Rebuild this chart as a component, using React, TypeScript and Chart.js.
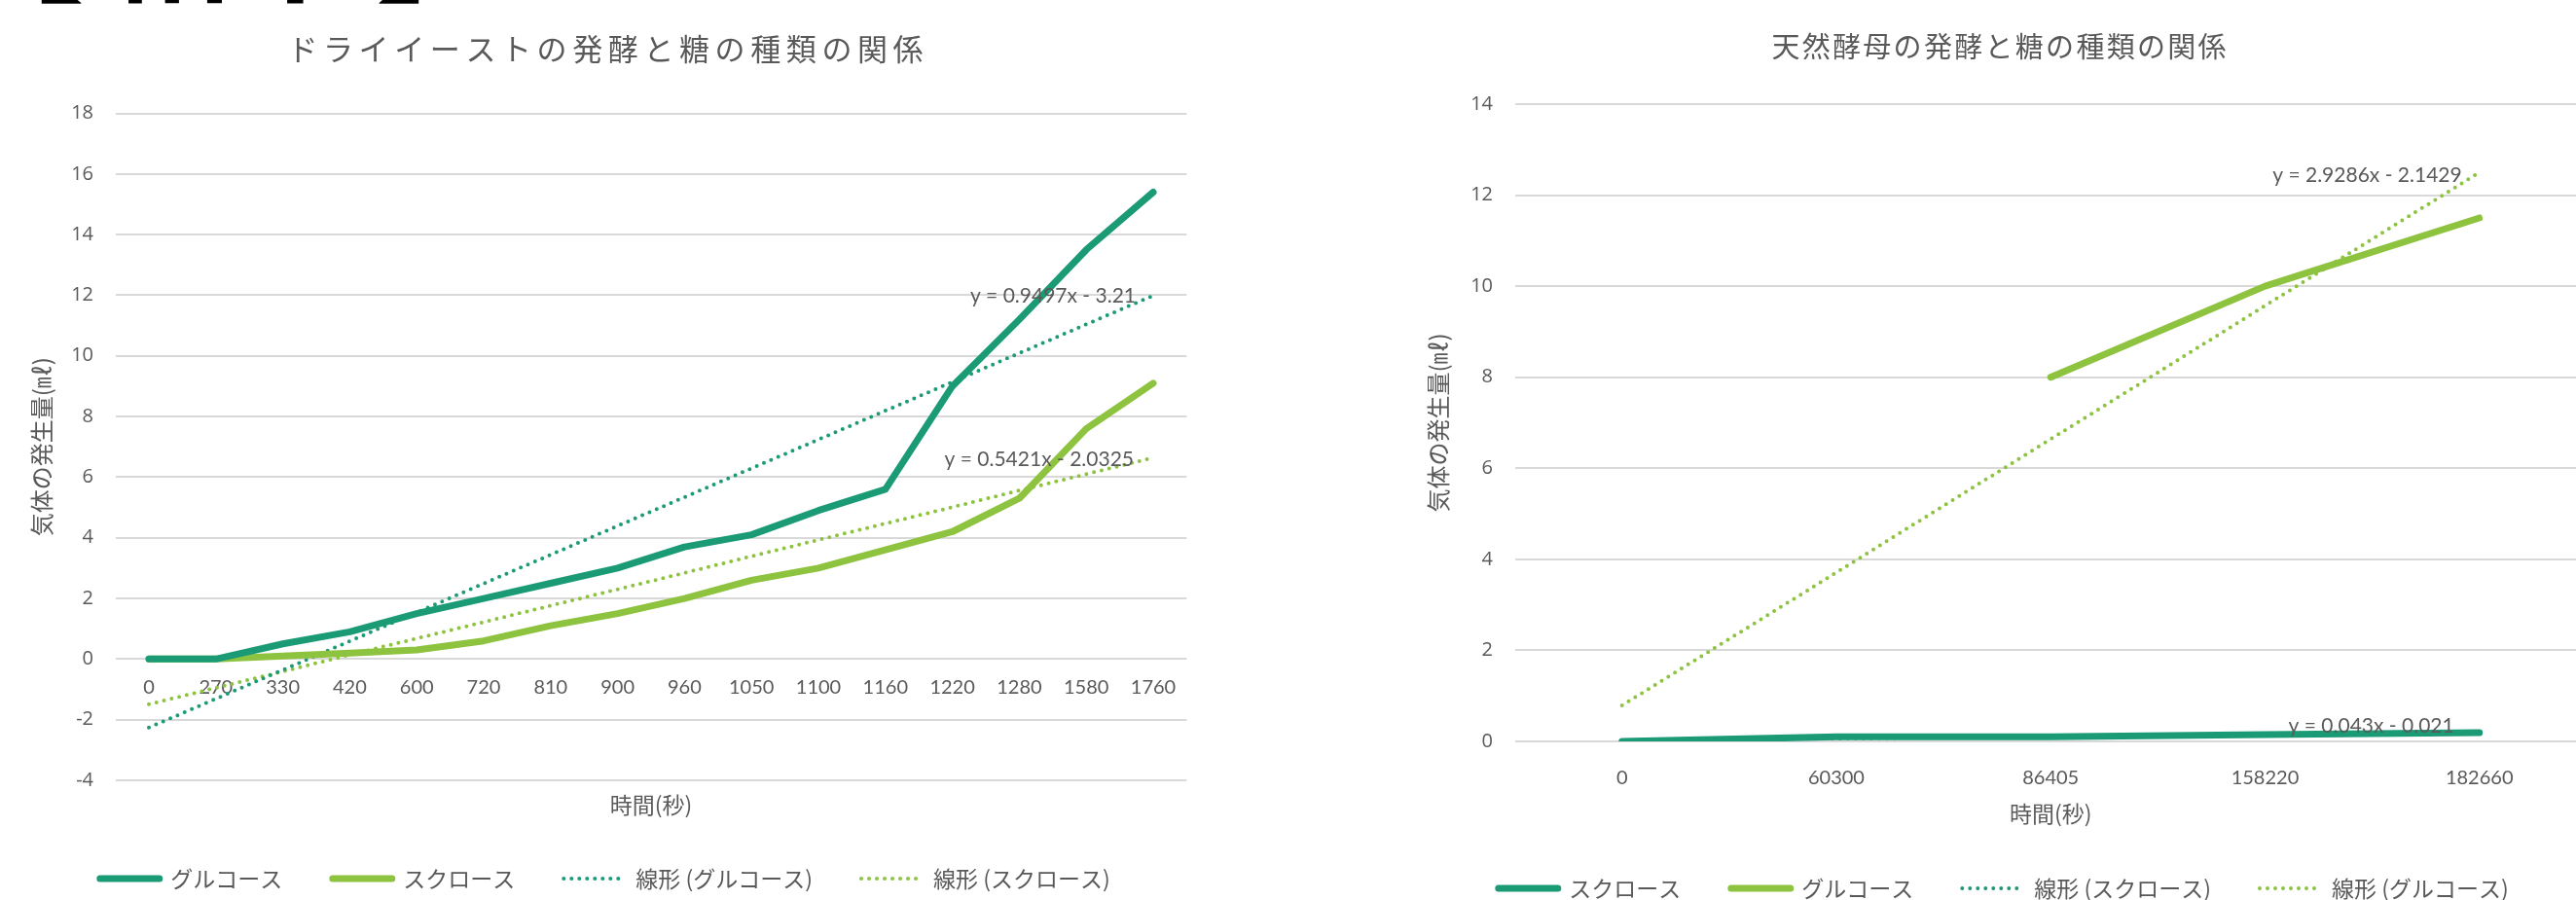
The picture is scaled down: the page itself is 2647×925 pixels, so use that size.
import React, { useEffect, useRef } from 'react';
import { Chart, registerables } from 'chart.js';

Chart.register(...registerables);

// ---------- data ----------
const leftTitle = 'ドライイーストの発酵と糖の種類の関係';
const leftCategories = ['0', '270', '330', '420', '600', '720', '810', '900', '960', '1050', '1100', '1160', '1220', '1280', '1580', '1760'];
const leftGlucose = [0, 0, 0.5, 0.9, 1.5, 2.0, 2.5, 3.0, 3.7, 4.1, 4.9, 5.6, 9.0, 11.2, 13.5, 15.4];
const leftSucrose = [0, 0, 0.1, 0.2, 0.3, 0.6, 1.1, 1.5, 2.0, 2.6, 3.0, 3.6, 4.2, 5.3, 7.6, 9.1];
const leftGlucoseTrend = [-2.26, -1.31, -0.36, 0.59, 1.54, 2.49, 3.44, 4.39, 5.34, 6.29, 7.24, 8.19, 9.14, 10.09, 11.04, 11.99];
const leftSucroseTrend = [-1.49, -0.95, -0.41, 0.14, 0.68, 1.22, 1.76, 2.3, 2.84, 3.39, 3.93, 4.47, 5.01, 5.56, 6.1, 6.64];
const leftTrendLabels = ['y = 0.9497x - 3.21', 'y = 0.5421x - 2.0325'];
const leftLegend = ['グルコース', 'スクロース', '線形 (グルコース)', '線形 (スクロース)'];
const leftYTicks = { min: -4, max: 18, step: 2 };

const rightTitle = '天然酵母の発酵と糖の種類の関係';
const rightCategories = ['0', '60300', '86405', '158220', '182660'];
const rightSucrose = [0, 0.1, 0.1, 0.15, 0.19];
const rightGlucose = [null, null, 8, 10, 11.5];
const rightSucroseTrend = [0.022, 0.065, 0.108, 0.151, 0.194];
const rightGlucoseTrend = [0.79, 3.71, 6.64, 9.57, 12.5];
const rightTrendLabels = ['y = 0.043x - 0.021', 'y = 2.9286x - 2.1429'];
const rightLegend = ['スクロース', 'グルコース', '線形 (スクロース)', '線形 (グルコース)'];
const rightYTicks = { min: 0, max: 14, step: 2 };

const yAxisTitle = '気体の発生量(㎖)';
const xAxisTitle = '時間(秒)';
const headingOpen = '【';
const headingText = '結果';
const headingClose = '】';

// ---------- styles ----------
const DARK = '#1B9A76';
const LIGHT = '#8DC33F';
const TEXT = '#595959';
const GRID = '#D9D9D9';
const JP = '"Noto Sans CJK JP"';
const NUM = 'Lato, "Noto Sans CJK JP"';

type Spec = {
  width: number;
  title: string;
  titleFont: number;
  titleSpacing: number;
  titleX: number;
  titleY: number;
  categories: string[];
  series: { data: (number | null)[]; color: string; dashed: boolean }[];
  legend: string[];
  legendY: number;
  trend: { ds: number; text: string; dx: number; dy: number }[];
  yTicks: { min: number; max: number; step: number };
  area: { left: number; right: number; top: number; bottom: number };
  yTitleX: number;
  yTickRight: number;
  xTitleY: number;
  zeroLabels: boolean;
};

function makeConfig(s: Spec): any {
  const titleLH = 23 * 1.2;
  const yTitleLH = 24 * 1.2;
  const xHeight = s.xTitleY - s.area.bottom + titleLH / 2;
  const plugin = {
    id: 'custom' + s.title.length,
    beforeDatasetsDraw(chart: any) {
      if (!s.zeroLabels) return;
      const ctx = chart.ctx;
      const xs = chart.scales.x;
      const ys = chart.scales.y;
      const y0 = ys.getPixelForValue(0) + 29;
      ctx.save();
      ctx.font = `20px ${NUM}`;
      ctx.fillStyle = TEXT;
      ctx.textAlign = 'center';
      ctx.textBaseline = 'middle';
      s.categories.forEach((c, i) => ctx.fillText(c, xs.getPixelForValue(i), y0));
      ctx.restore();
    },
    afterDatasetsDraw(chart: any) {
      const ctx = chart.ctx;
      ctx.save();
      ctx.font = `21px ${NUM}`;
      ctx.fillStyle = TEXT;
      ctx.textAlign = 'right';
      ctx.textBaseline = 'middle';
      s.trend.forEach((t) => {
        const meta = chart.getDatasetMeta(t.ds);
        const pt = meta.data[meta.data.length - 1];
        ctx.fillText(t.text, pt.x + t.dx, pt.y + t.dy);
      });
      ctx.restore();
    },
    afterDraw(chart: any) {
      const ctx = chart.ctx;
      // title
      ctx.save();
      ctx.font = `${s.titleFont}px ${JP}`;
      (ctx as any).letterSpacing = `${s.titleSpacing}px`;
      ctx.fillStyle = TEXT;
      ctx.textAlign = 'left';
      ctx.textBaseline = 'middle';
      const tw = ctx.measureText(s.title).width - s.titleSpacing;
      ctx.fillText(s.title, s.titleX - tw / 2, s.titleY);
      ctx.restore();
      // legend
      ctx.save();
      ctx.font = `23px ${JP}`;
      const sampleW = 68;
      const gap = 8;
      const itemGap = 48;
      const widths = s.legend.map((t) => ctx.measureText(t).width);
      const total = widths.reduce((a, w) => a + sampleW + gap + w, 0) + itemGap * (s.legend.length - 1);
      let x = chart.width / 2 - total / 2;
      const y = s.legendY;
      s.legend.forEach((t, i) => {
        const ser = s.series[i];
        ctx.beginPath();
        ctx.strokeStyle = ser.color;
        ctx.lineCap = 'round';
        if (ser.dashed) {
          ctx.lineWidth = 4;
          ctx.setLineDash([0, 8]);
          ctx.moveTo(x + 2, y);
          ctx.lineTo(x + sampleW - 2, y);
        } else {
          ctx.lineWidth = 7;
          ctx.setLineDash([]);
          ctx.moveTo(x + 3.5, y);
          ctx.lineTo(x + sampleW - 3.5, y);
        }
        ctx.stroke();
        ctx.setLineDash([]);
        ctx.fillStyle = TEXT;
        ctx.textAlign = 'left';
        ctx.textBaseline = 'middle';
        ctx.fillText(t, x + sampleW + gap, y);
        x += sampleW + gap + widths[i] + itemGap;
      });
      ctx.restore();
    },
  };

  return {
    type: 'line',
    data: {
      labels: s.categories,
      datasets: s.series.map((ser, i) => ({
        label: s.legend[i],
        data: ser.data,
        borderColor: ser.color,
        backgroundColor: ser.color,
        borderWidth: ser.dashed ? 4 : 7,
        borderDash: ser.dashed ? [0, 8] : [],
        borderCapStyle: 'round',
        borderJoinStyle: 'round',
        pointRadius: 0,
        tension: 0,
        fill: false,
      })),
    },
    options: {
      animation: false,
      responsive: false,
      maintainAspectRatio: false,
      devicePixelRatio: 1,
      layout: {
        padding: {
          left: 0,
          top: s.area.top,
          right: s.width - s.area.right,
          bottom: 925 - s.area.bottom - xHeight,
        },
      },
      plugins: {
        legend: { display: false },
        title: { display: false },
        tooltip: { enabled: false },
      },
      scales: {
        x: {
          type: 'category',
          offset: true,
          grid: { display: false },
          border: { display: false },
          ticks: s.zeroLabels
            ? { display: false }
            : { display: true, font: { family: NUM, size: 20 }, color: TEXT, padding: 18, maxRotation: 0, autoSkip: false },
          title: {
            display: true,
            text: xAxisTitle,
            font: { family: JP, size: 23 },
            color: TEXT,
            padding: { top: 0, bottom: 0 },
          },
          afterFit: (sc: any) => {
            sc.height = xHeight;
          },
        },
        y: {
          type: 'linear',
          min: s.yTicks.min,
          max: s.yTicks.max,
          grid: { color: GRID, lineWidth: 2, drawTicks: false },
          border: { display: false },
          ticks: {
            stepSize: s.yTicks.step,
            font: { family: '"Open Sans"', size: 20 },
            color: TEXT,
            padding: s.area.left - s.yTickRight,
          },
          title: {
            display: true,
            text: yAxisTitle,
            font: { family: JP, size: 24 },
            color: TEXT,
            padding: { top: s.yTitleX - yTitleLH / 2, bottom: 0 },
          },
          afterFit: (sc: any) => {
            sc.width = s.area.left;
          },
        },
      },
    },
    plugins: [plugin],
  };
}

const leftSpec: Spec = {
  width: 1240,
  title: leftTitle,
  titleFont: 31,
  titleSpacing: 5.6,
  titleX: 622,
  titleY: 50,
  categories: leftCategories,
  series: [
    { data: leftGlucose, color: DARK, dashed: false },
    { data: leftSucrose, color: LIGHT, dashed: false },
    { data: leftGlucoseTrend, color: DARK, dashed: true },
    { data: leftSucroseTrend, color: LIGHT, dashed: true },
  ],
  legend: leftLegend,
  legendY: 903,
  trend: [
    { ds: 2, text: leftTrendLabels[0], dx: -18, dy: 0 },
    { ds: 3, text: leftTrendLabels[1], dx: -20, dy: 2 },
  ],
  yTicks: leftYTicks,
  area: { left: 118.6, right: 1219.4, top: 116.5, bottom: 802 },
  yTitleX: 43,
  yTickRight: 96,
  xTitleY: 827,
  zeroLabels: true,
};

const rightSpec: Spec = {
  width: 1234,
  title: rightTitle,
  titleFont: 29,
  titleSpacing: 2.3,
  titleX: 614,
  titleY: 48,
  categories: rightCategories,
  series: [
    { data: rightSucrose, color: DARK, dashed: false },
    { data: rightGlucose, color: LIGHT, dashed: false },
    { data: rightSucroseTrend, color: DARK, dashed: true },
    { data: rightGlucoseTrend, color: LIGHT, dashed: true },
  ],
  legend: rightLegend,
  legendY: 913,
  trend: [
    { ds: 2, text: rightTrendLabels[0], dx: -26, dy: -7 },
    { ds: 3, text: rightTrendLabels[1], dx: -18, dy: 3 },
  ],
  yTicks: rightYTicks,
  area: { left: 116.6, right: 1217.8, top: 107, bottom: 762 },
  yTitleX: 38,
  yTickRight: 94,
  xTitleY: 836,
  zeroLabels: false,
};

function ChartCanvas({ spec, left }: { spec: Spec; left: number }) {
  const ref = useRef<HTMLCanvasElement>(null);
  useEffect(() => {
    const chart = new Chart(ref.current as HTMLCanvasElement, makeConfig(spec));
    return () => chart.destroy();
  }, []);
  return (
    <canvas
      ref={ref}
      width={spec.width}
      height={925}
      style={{ position: 'absolute', left, top: 0, width: spec.width, height: 925 }}
    />
  );
}

const headStyle = (left: number): React.CSSProperties => ({
  position: 'absolute',
  left,
  top: -131,
  fontFamily: JP,
  fontWeight: 700,
  fontSize: 130,
  lineHeight: '130px',
  color: '#000',
  whiteSpace: 'nowrap',
});

export default function App() {
  return (
    <div
      style={{
        position: 'fixed',
        left: 0,
        top: 0,
        width: 2647,
        height: 925,
        overflow: 'hidden',
        background: '#ffffff',
      }}
    >
      <div style={headStyle(-43)}>{headingOpen}</div>
      <div style={headStyle(108)}>{headingText}</div>
      <div style={headStyle(386)}>{headingClose}</div>
      <ChartCanvas spec={leftSpec} left={0} />
      <ChartCanvas spec={rightSpec} left={1440} />
    </div>
  );
}
